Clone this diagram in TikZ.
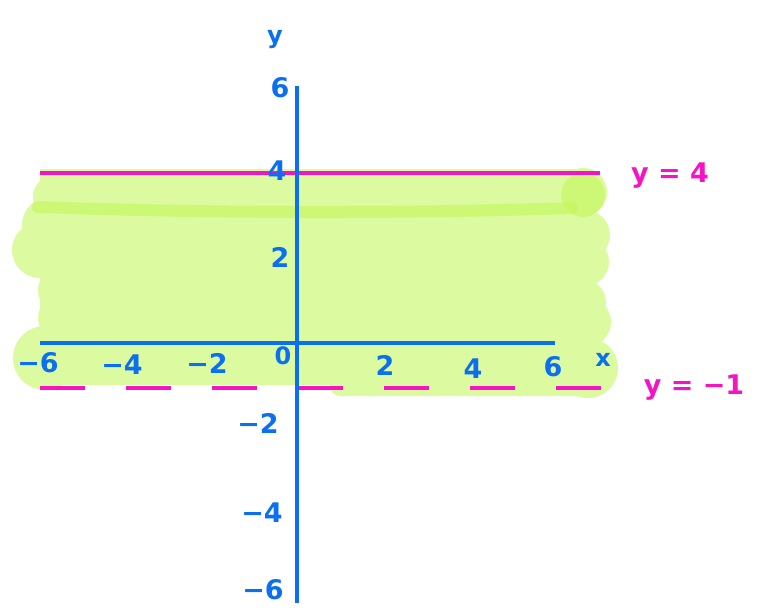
\documentclass[tikz,border=0pt]{standalone}
\usepackage{fontspec}
\setmainfont{DejaVu Sans}
\definecolor{axblue}{HTML}{0A6FF0}
\definecolor{mag}{HTML}{F514C3}
\definecolor{lightg}{HTML}{DCFBA0}
\definecolor{darkg}{HTML}{C4F65A}
\begin{document}
\begin{tikzpicture}[x=1pt,y=-1pt,
  lbl/.style={text=axblue,font=\fontsize{27}{27}\selectfont\bfseries,inner sep=0pt},
  slbl/.style={text=axblue,font=\fontsize{24}{24}\selectfont\bfseries,inner sep=0pt},
  mlbl/.style={text=mag,font=\fontsize{27}{27}\selectfont\bfseries,inner sep=0pt},
  axis/.style={draw=axblue,line width=3.5pt},
  bound/.style={draw=mag,line width=3.2pt}]
\useasboundingbox (0,0) rectangle (760,612);
% shaded region
\fill[lightg] (40,169) rectangle (592,385);
\fill[lightg,rounded corners=10pt] (330,370) rectangle (592,396);
\foreach \cx/\cy/\r in {55/197/22, 50/225/28, 40/250/28, 60/290/22, 60/318/22, 45/358/32,
  583/192/24, 585/235/25, 585/262/24, 584/302/22, 586/322/25, 588/368/30}
  {\fill[lightg] (\cx,\cy) circle (\r);}
\draw[darkg,line width=12pt,line cap=round,opacity=0.6] (38,207) .. controls (200,213) and (400,214) .. (572,208);
\fill[darkg,opacity=0.6] (583,195) circle (22);
% boundary lines
\coordinate (tl) at (40,173);
\coordinate (tr) at (600,173);
\coordinate (bl) at (40,388);
\coordinate (br) at (601,388);
\draw[bound] (tl) -- (tr);
\draw[bound,dash pattern=on 45pt off 41pt] (bl) -- (br);
% axes
\coordinate (xl) at (40,343);
\coordinate (xr) at (555,343);
\coordinate (yt) at (297,86);
\coordinate (yb) at (297,603);
\draw[axis] (xl) -- (xr);
\draw[axis] (yt) -- (yb);
% axis names
\node[slbl] (ylab) at (275,40) {y};
\node[slbl] (xlab) at (603,360) {x};
% y ticks
\node[lbl] (y6) at (280,88) {6};
\node[lbl] (y4) at (277,171) {4};
\node[lbl] (y2) at (280,257) {2};
\node[slbl] (y0) at (283,356) {0};
\node[lbl] (ym2) at (258,423) {−2};
\node[lbl] (ym4) at (262,513) {−4};
\node[lbl] (ym6) at (263,590) {−6};
% x ticks
\node[lbl] (xm6) at (38,363) {−6};
\node[lbl] (xm4) at (122,365) {−4};
\node[lbl] (xm2) at (207,363) {−2};
\node[lbl] (x2) at (385,365) {2};
\node[lbl] (x4) at (473,369) {4};
\node[lbl] (x6) at (553,367) {6};
% equations
\node[mlbl] (e1) at (670,176) {y = 4};
\node[mlbl] (e2) at (694,388) {y = −1};
\end{tikzpicture}
\end{document}
